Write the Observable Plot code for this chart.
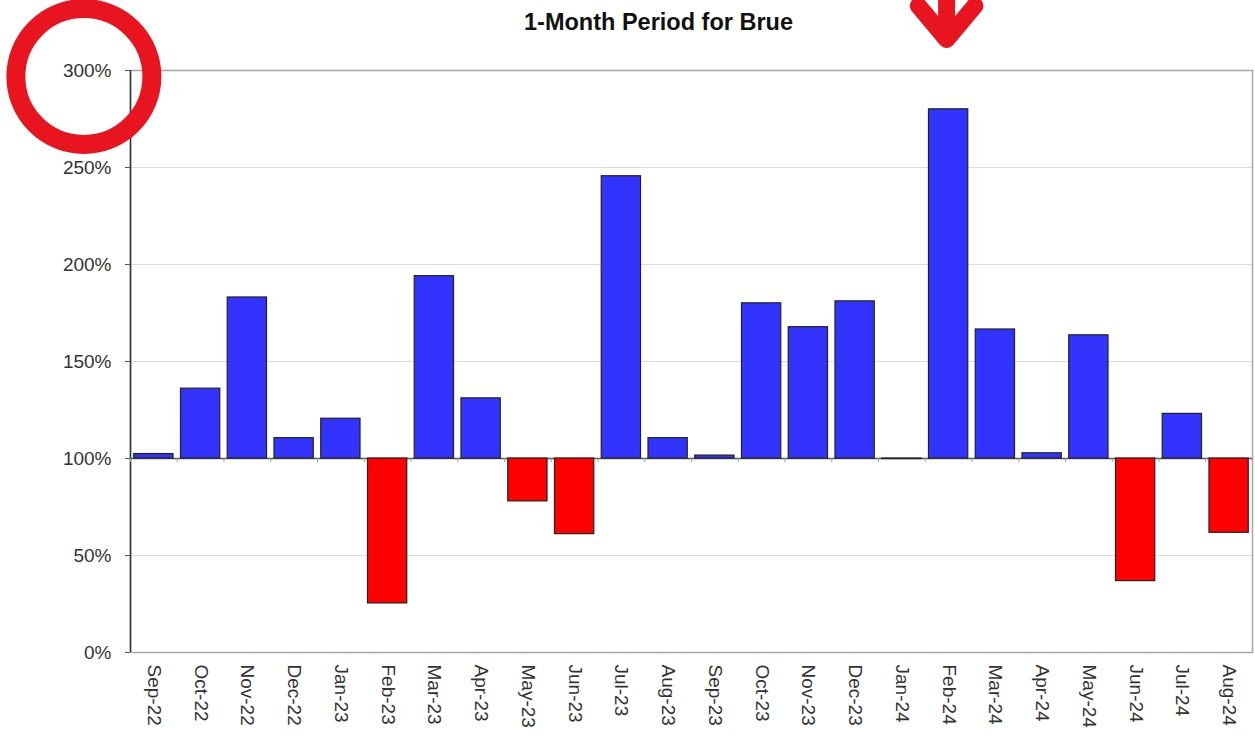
<!DOCTYPE html>
<html>
<head>
<meta charset="utf-8">
<script src="https://cdn.jsdelivr.net/npm/d3@7"></script>
<script src="https://cdn.jsdelivr.net/npm/@observablehq/plot@0.6"></script>
<style>
  html, body { margin: 0; padding: 0; background: #ffffff; }
  #chart svg { display: block; }
</style>
</head>
<body>
<div id="chart"></div>
<script>
// ---- data ----
const title = "1-Month Period for Brue";
const months = ["Sep-22","Oct-22","Nov-22","Dec-22","Jan-23","Feb-23","Mar-23","Apr-23","May-23","Jun-23","Jul-23","Aug-23",
                "Sep-23","Oct-23","Nov-23","Dec-23","Jan-24","Feb-24","Mar-24","Apr-24","May-24","Jun-24","Jul-24","Aug-24"];
const values = [102.3, 136, 183, 110.5, 120.5, 25.3, 194, 131, 77.9, 61, 245.5, 110.5,
                101.5, 180, 167.7, 181, 99.7, 280, 166.5, 102.7, 163.5, 36.8, 123, 61.7];
const baseline = 100;
const yTicks = [0, 50, 100, 150, 200, 250, 300];
const gridTicks = [50, 150, 200, 250];
// hand-drawn highlights on the reference (anchored in data space)
const circleNote = [{x: "Sep-22", y: 300}];
const arrowNote = [{x: "Feb-24", from: 384, to: 316}];

const data = months.map((m, i) => ({month: m, value: values[i]}));

const W = 1255, H = 736;
const mL = 130, mR = 3, mT = 70, mB = 84;
const step = (W - mL - mR) / months.length;
const red = "#e8141f";

const chart = Plot.plot({
  width: W,
  height: H,
  marginLeft: mL,
  marginRight: mR,
  marginTop: mT,
  marginBottom: mB,
  style: {fontFamily: "'Liberation Sans', Arial, sans-serif", background: "#ffffff", overflow: "visible"},
  x: {type: "band", domain: months, paddingInner: 0.16, paddingOuter: 0.08, round: false, label: null},
  y: {domain: [0, 300], label: null},
  marks: [
    Plot.gridY(gridTicks, {stroke: "#dcdcdc", strokeOpacity: 1}),
    Plot.frame({stroke: "#a8a8a8", strokeWidth: 1.5}),
    Plot.ruleX([months[0]], {dx: -step / 2, y1: 0, y2: 300, stroke: "#333", strokeWidth: 1.5}),
    Plot.axisY(yTicks, {tickSize: 5, tickPadding: 14, tickFormat: d => d + "%", fontSize: 19, fill: "#333", stroke: "#555"}),
    Plot.axisX({anchor: "bottom", tickSize: 0, tickPadding: 12, tickRotate: 90, fontSize: 19, fill: "#333"}),
    Plot.ruleY([baseline], {stroke: "#555", strokeWidth: 1.5}),
    Plot.ruleX(months, {dx: -step / 2, y1: baseline, y2: baseline - 2, stroke: "#999"}),
    Plot.ruleX([months[months.length - 1]], {dx: step / 2, y1: baseline, y2: baseline - 2, stroke: "#999"}),
    Plot.barY(data, {
      x: "month",
      y1: baseline,
      y2: "value",
      fill: d => d.value >= baseline ? "#3333ff" : "#ff0000",
      stroke: "#222",
      strokeWidth: 1.2
    }),
    Plot.text([title], {frameAnchor: "top", dx: -33, dy: -48, lineAnchor: "middle", fontSize: 23.5, fontWeight: "bold", fill: "#111"}),
    Plot.dot(circleNote, {x: "x", y: "y", dx: -70, dy: 6, r: 68, stroke: red, strokeWidth: 19, fill: "none"}),
    Plot.arrow(arrowNote, {x1: "x", x2: "x", y1: "from", y2: "to", dx: -2, stroke: red, strokeWidth: 17, headAngle: 80, strokeLinecap: "round", strokeLinejoin: "round"})
  ]
});

document.getElementById("chart").appendChild(chart);
</script>
</body>
</html>
